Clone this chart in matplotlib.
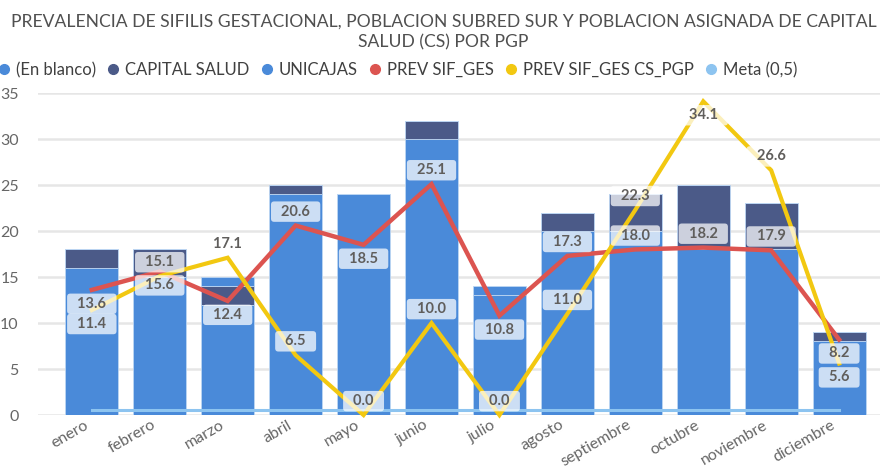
import numpy as np
import matplotlib
matplotlib.use("Agg")
import matplotlib.pyplot as plt
from matplotlib.lines import Line2D
from matplotlib.transforms import ScaledTranslation

plt.rcParams['font.family'] = ['Lato', 'DejaVu Sans']

months = ['enero', 'febrero', 'marzo', 'abril', 'mayo', 'junio', 'julio',
          'agosto', 'septiembre', 'octubre', 'noviembre', 'diciembre']
en_blanco = [16, 15, 12, 24, 24, 30, 13, 20, 20, 18, 18, 8]
capital_salud = [2, 3, 2, 1, 0, 2, 0, 2, 4, 7, 5, 1]
unicajas = [0, 0, 1, 0, 0, 0, 1, 0, 0, 0, 0, 0]
prev_sif_ges = [13.6, 15.6, 12.4, 20.6, 18.5, 25.1, 10.8, 17.3, 18.0, 18.2, 17.9, 8.2]
prev_cs_pgp = [11.4, 15.1, 17.1, 6.5, 0.0, 10.0, 0.0, 11.0, 22.3, 34.1, 26.6, 5.6]
meta = [0.5] * 12

# label side: +1 above the point, -1 below
red_side = [-1, -1, -1, 1, -1, 1, -1, 1, 1, 1, 1, -1]
yel_side = [-1, 1, 1, 1, 1, 1, 1, 1, 1, -1, 1, -1]

c_blue = '#4a8ad9'
c_navy = '#4b5a88'
c_red = '#dc5450'
c_yellow = '#f2c811'
c_meta = '#8dc4f0'
c_text = '#605e5c'

fig = plt.figure(figsize=(8.87, 4.70), dpi=100)
ax = fig.add_axes([0.043, 0.117, 0.949, 0.685])

x = np.arange(len(months))
w = 0.78
b1 = np.array(en_blanco)
b2 = b1 + np.array(capital_salud)
ax.bar(x, en_blanco, w, color=c_blue, edgecolor='#bcd6f3', linewidth=0.6, zorder=2)
ax.bar(x, capital_salud, w, bottom=b1, color=c_navy, edgecolor='#bcd6f3', linewidth=0.6, zorder=2)
ax.bar(x, unicajas, w, bottom=b2, color=c_blue, edgecolor='#bcd6f3', linewidth=0.6, zorder=2)

ax.plot(x, meta, color=c_meta, lw=2.2, zorder=3)
ax.plot(x, prev_sif_ges, color=c_red, lw=3.2, zorder=4, solid_joinstyle='miter')
ax.plot(x, prev_cs_pgp, color=c_yellow, lw=3, zorder=5, clip_on=False,
        solid_joinstyle='miter')

box = dict(boxstyle='round,pad=0.22', fc='white', ec='none', alpha=0.72)
for vals, sides in ((prev_sif_ges, red_side), (prev_cs_pgp, yel_side)):
    for xi, v, s in zip(x, vals, sides):
        ax.annotate(f'  {v:.1f}  ', (xi, v), xytext=(0, 10 * s),
                    textcoords='offset points', ha='center', va='center',
                    fontsize=10.5, fontweight='bold', color=c_text,
                    bbox=box, zorder=6)

ax.set_xlim(-0.79, 11.6)
ax.set_ylim(0, 35)
ax.set_yticks(range(0, 36, 5))
ax.grid(axis='y', color='#e6e6e6', lw=1.8, zorder=0)
ax.set_axisbelow(True)
for sp in ax.spines.values():
    sp.set_visible(False)
ax.tick_params(length=0, colors='#666666', labelsize=11.5)
ax.tick_params(axis='y', pad=14)
ax.tick_params(axis='x', pad=2)
ax.set_xticks(x)
ax.set_xticklabels(months, rotation=30, ha='right', rotation_mode='anchor', fontsize=11.5)
shift = ScaledTranslation(-6 / 72, 0, fig.dpi_scale_trans)
for lbl in ax.get_xticklabels():
    lbl.set_transform(lbl.get_transform() + shift)

fig.text(0.5, 0.955, 'PREVALENCIA DE SIFILIS GESTACIONAL, POBLACION SUBRED SUR Y POBLACION ASIGNADA DE CAPITAL',
         ha='center', va='center', fontsize=12.6, color='#505050')
fig.text(0.5, 0.91, 'SALUD (CS) POR PGP', ha='center', va='center', fontsize=12.6, color='#505050')

labels = ['(En blanco)', 'CAPITAL SALUD', 'UNICAJAS', 'PREV SIF_GES', 'PREV SIF_GES CS_PGP', 'Meta (0,5)']
colors = [c_blue, c_navy, c_blue, c_red, c_yellow, c_meta]
handles = [Line2D([], [], marker='o', ls='none', color=c, markersize=7) for c in colors]
fig.legend(handles, labels, loc='center left', bbox_to_anchor=(-0.018, 0.851), ncol=6,
           frameon=False, fontsize=12, handletextpad=-0.1, columnspacing=0.25,
           labelcolor='#404040', borderaxespad=0, handlelength=1.6)

fig.savefig('out.png', dpi=100)
